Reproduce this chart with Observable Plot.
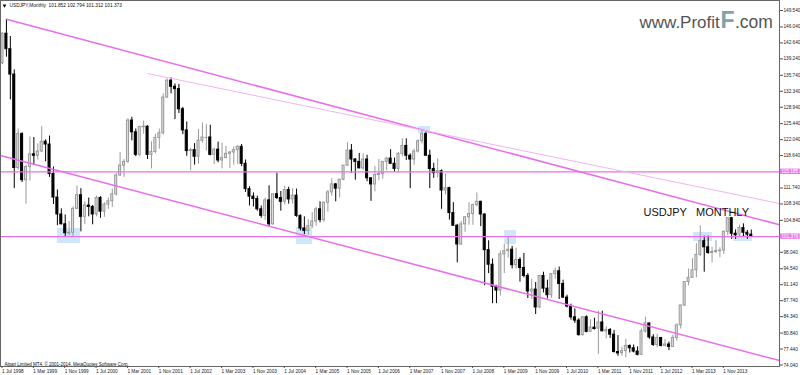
<!DOCTYPE html>
<html><head><meta charset="utf-8">
<script src="https://cdn.jsdelivr.net/npm/d3@7"></script>
<script src="https://cdn.jsdelivr.net/npm/@observablehq/plot@0.6"></script>
<style>html,body{margin:0;padding:0;background:#fff}svg{display:block}</style>
</head><body><div id="chart"></div>
<script>
// Monthly USDJPY candles, Jul 1998 .. Jun 2014 (index 0 = Jul 1998)
const firstOpen = 138.3;
const closes = [
  144.6,141.3,135.9,116.0,123.2,113.4,
  116.2,118.9,118.6,119.5,121.6,121.0,114.7,109.7,106.1,104.0,102.1,102.2,
  107.3,110.2,105.6,108.0,107.7,106.1,109.6,106.7,108.2,108.9,110.4,114.4,
  116.5,117.3,126.1,123.6,118.8,124.7,124.8,118.8,119.4,122.4,123.4,131.0,
  134.6,133.3,132.8,128.5,124.0,119.6,119.8,118.4,121.8,122.5,122.5,118.8,
  119.9,117.6,118.1,119.0,119.3,119.8,120.5,116.9,111.5,109.9,109.4,107.2,
  105.8,109.1,104.0,110.4,109.6,108.8,111.3,109.3,110.1,105.8,103.1,102.6,
  103.6,104.6,107.2,104.9,108.6,110.8,112.5,111.6,113.5,116.5,119.7,117.8,
  117.3,115.9,117.8,113.8,112.5,114.5,114.7,117.3,118.0,116.9,115.8,119.0,
  120.7,118.6,117.8,119.5,121.7,123.2,118.6,115.8,114.9,115.3,111.2,111.7,
  106.4,103.7,99.7,104.0,105.5,106.2,108.1,108.8,106.1,98.5,95.4,90.7,
  89.9,97.6,98.3,98.6,95.3,96.4,94.7,93.0,89.7,90.1,86.3,93.0,
  90.3,88.9,93.4,94.0,91.3,88.4,86.5,84.2,83.5,80.4,84.2,81.1,
  82.0,81.8,83.1,81.2,81.5,80.5,76.8,76.6,77.0,78.1,77.6,76.9,
  76.2,81.2,82.9,79.9,78.3,79.8,78.1,78.4,77.9,79.8,82.5,86.7,
  91.7,92.6,94.2,97.5,100.4,99.1,97.9,98.1,98.3,98.4,102.4,105.3,
  102.0,101.8,103.2,102.2,101.8,101.373
];
const highs = [
  144.8,147.66,144.0,136.9,124.3,123.5,
  116.6,122.6,122.5,121.1,124.8,122.0,122.8,116.2,111.3,107.3,106.0,104.6,
  107.7,112.2,111.6,108.8,109.6,108.0,110.0,109.9,108.6,109.6,111.5,114.8,
  119.3,117.8,126.5,126.8,124.3,124.9,126.0,125.0,121.6,123.2,124.3,131.8,
  135.0,135.2,133.9,133.8,128.9,125.8,120.2,121.2,124.2,125.6,125.3,125.1,
  120.2,121.5,121.3,120.6,119.5,120.5,120.8,121.0,117.7,112.0,110.7,110.0,
  107.9,109.6,112.2,110.5,114.9,111.0,112.1,111.9,111.6,111.5,106.0,105.6,
  105.0,106.5,107.6,108.8,108.7,111.2,113.7,112.7,113.6,116.5,121.4,121.0,
  118.0,119.1,119.0,118.7,113.9,116.3,117.8,117.4,118.3,119.9,118.1,119.3,
  122.2,122.2,119.0,120.0,122.0,124.14,123.6,119.8,117.0,117.9,115.6,114.7,
  111.9,108.6,104.0,104.6,105.6,108.6,108.3,110.7,108.9,106.2,100.5,96.6,
  91.0,98.3,99.7,101.4,99.3,98.9,96.9,97.8,93.5,92.3,91.6,93.1,
  93.8,92.1,93.5,94.7,94.9,92.1,88.9,87.0,86.0,83.9,84.4,84.5,
  83.7,84.0,85.5,85.5,82.2,81.8,81.4,80.3,77.8,79.5,78.3,78.3,
  77.9,81.7,84.2,82.9,80.5,80.6,79.9,79.5,78.9,80.4,82.8,86.8,
  91.7,94.5,96.7,99.9,103.7,101.5,101.5,99.1,100.6,99.0,102.6,105.4,
  105.4,102.8,103.8,104.1,102.7,102.794
];
const lows = [
  138.0,139.6,130.5,111.6,115.5,112.9,
  108.3,113.2,116.7,117.7,119.3,117.3,114.0,108.2,103.7,103.9,101.3,101.6,
  101.4,107.2,102.4,104.0,105.6,103.9,105.6,105.3,105.5,107.2,107.6,110.0,
  114.2,114.0,117.0,121.8,118.4,118.4,123.2,117.8,115.8,119.0,120.0,123.0,
  130.8,131.8,126.3,127.6,123.1,118.5,115.4,116.6,116.8,121.3,119.6,118.6,
  116.7,117.1,115.8,118.1,115.9,116.6,116.7,116.3,110.8,107.9,107.7,106.8,
  105.3,104.8,103.4,103.8,109.3,106.8,108.1,108.3,108.3,105.5,102.6,101.8,
  101.7,103.1,103.6,104.3,104.4,106.6,110.0,108.8,109.6,113.3,116.3,114.9,
  113.4,115.9,115.5,113.1,108.9,110.9,113.3,113.6,115.4,116.8,115.1,115.0,
  118.4,117.6,111.6,116.6,119.2,121.1,118.6,111.6,113.8,113.9,107.2,110.3,
  104.9,103.6,95.8,99.6,102.3,103.8,103.8,107.7,103.5,90.9,93.5,87.1,
  87.1,88.7,93.5,96.8,94.5,94.5,91.7,92.6,88.2,88.0,84.8,86.1,
  89.4,88.1,88.2,92.3,88.0,88.2,86.2,83.6,82.9,80.2,80.2,80.9,
  81.0,81.5,76.3,81.2,79.6,79.7,76.6,75.9,75.9,75.6,76.6,76.6,
  76.0,76.1,80.8,79.5,78.0,77.7,77.9,77.9,77.1,77.8,79.1,81.7,
  86.5,90.9,92.6,92.6,97.1,93.8,97.6,95.8,97.8,96.9,97.6,101.6,
  100.8,100.8,101.2,101.4,100.8,101.312
];

// Price axis tick values and time axis labels (every 8 months)
const yTicks = [149.54,146.04,142.64,139.24,135.74,132.34,128.94,125.44,122.04,118.64,
  111.74,108.34,104.84,98.04,94.54,91.14,87.74,84.34,80.84,77.44,74.04];
const xTickLabels = ["1 Jul 1998","1 Mar 1999","1 Nov 1999","1 Jul 2000","1 Mar 2001","1 Nov 2001",
  "1 Jul 2002","1 Mar 2003","1 Nov 2003","1 Jul 2004","1 Mar 2005","1 Nov 2005","1 Jul 2006",
  "1 Mar 2007","1 Nov 2007","1 Jul 2008","1 Mar 2009","1 Nov 2009","1 Jul 2010","1 Mar 2011",
  "1 Nov 2011","1 Jul 2012","1 Mar 2013","1 Nov 2013"];
const xTickIdx = xTickLabels.map((_, k) => k * 8);

// Horizontal levels
const levels = [115.185, 101.376];
// Trend lines (month index, price)
const trendLines = [
  {i1: 1, p1: 147.66, i2: 198.2, p2: 103.9, kind: "main"},
  {i1: -0.51, p1: 118.66, i2: 198.2, p2: 74.99, kind: "main"},
  {i1: 37, p1: 136.12, i2: 198.2, p2: 108.43, kind: "thin"}
];
// Highlight zones (month index range, price range)
const zones = [
  {i1: 14.0, i2: 19.9, p1: 99.91, p2: 103.11},
  {i1: 75.0, i2: 79.1, p1: 99.70, p2: 103.32},
  {i1: 106.1, i2: 109.2, p1: 123.34, p2: 124.83},
  {i1: 128.1, i2: 131.1, p1: 99.70, p2: 102.68},
  {i1: 176.3, i2: 181.1, p1: 100.34, p2: 102.26},
  {i1: 186.5, i2: 191.3, p1: 100.34, p2: 101.62}
];

const candles = closes.map((c, i) => {
  const o = i === 0 ? firstOpen : closes[i - 1];
  return {i, o, h: highs[i], l: lows[i], c, up: c >= o};
});

const xMin = -0.51, xMax = 198.2;
const hw = 0.26;
const LINE = "#e96ee9";
const font = "Liberation Sans, Arial, sans-serif";

const chart = Plot.plot({
  width: 800, height: 375,
  marginLeft: 0, marginRight: 21, marginTop: 0, marginBottom: 9,
  x: {domain: [xMin, xMax], axis: null},
  y: {domain: [73.72, 151.67], axis: null},
  style: {fontFamily: font, background: "white", color: "#222"},
  marks: [
    Plot.rect(zones, {x1: "i1", x2: "i2", y1: "p1", y2: "p2", fill: "#cfe6fb"}),
    Plot.ruleX(candles, {x: "i", y1: "l", y2: "h", stroke: d => d.up ? "#9a9a9a" : "#000", strokeWidth: 1}),
    Plot.rect(candles, {x1: d => d.i - hw, x2: d => d.i + hw, y1: "o", y2: "c",
      fill: d => d.up ? "#dedede" : "#000", stroke: d => d.up ? "#9a9a9a" : "#000", strokeWidth: 1}),
    Plot.ruleY(candles.filter(d => Math.abs(d.o - d.c) < 0.25), {y: "c", x1: d => d.i - hw - 0.13, x2: d => d.i + hw + 0.13,
      stroke: d => d.up ? "#9a9a9a" : "#000", strokeWidth: 1}),
    Plot.ruleY(levels, {stroke: LINE, strokeWidth: 1.3}),
    Plot.link(trendLines, {x1: "i1", y1: "p1", x2: "i2", y2: "p2",
      stroke: d => d.kind === "main" ? LINE : "#f2b4f2", strokeWidth: d => d.kind === "main" ? 1.5 : 1}),
    Plot.frame({stroke: "#666"}),
    Plot.axisY({anchor: "right", ticks: yTicks, tickFormat: d => d.toFixed(3), tickSize: 3, tickPadding: 1,
      fontSize: 4.7, stroke: "#555"}),
    Plot.rect(levels, {x1: xMax + 0.2, x2: xMax + 5.3, y1: d => d - 0.58, y2: d => d + 0.58, fill: "#e77ce7"}),
    Plot.text(levels, {x: xMax, y: d => d, text: d => d.toFixed(3), dx: 2, textAnchor: "start", fill: "white", fontSize: 4.7}),
    Plot.axisX({anchor: "bottom", ticks: xTickIdx, tickFormat: d => xTickLabels[d / 8], tickSize: 2, tickPadding: 1,
      textAnchor: "start", dx: -0.5, fontSize: 4.7, stroke: "#555"}),
    Plot.dot([0], {frameAnchor: "top-left", dx: 4, dy: 5, symbol: "triangle", r: 1.4, rotate: 180, fill: "#000"}),
    Plot.text(["USDJPY,Monthly  101.852 102.794 101.312 101.373"], {frameAnchor: "top-left", dx: 9, dy: 5.3,
      lineAnchor: "middle", textAnchor: "start", fontSize: 4.8, fill: "#111"}),
    Plot.text(["Alpari Limited MT4, \u00a9 2001-2014, MetaQuotes Software Corp."], {frameAnchor: "bottom-left", dx: 4, dy: -1,
      lineAnchor: "bottom", textAnchor: "start", fontSize: 4.5, fill: "#111"}),
    Plot.text(["USDJPY\u00a0\u00a0\u00a0MONTHLY"], {x: 163.5, y: 105.8, lineAnchor: "bottom", textAnchor: "start",
      fontSize: 11, fill: "#111"}),
    Plot.text(["www.Profit"], {frameAnchor: "top-left", dx: 639, dy: 27, lineAnchor: "bottom", textAnchor: "start",
      fontSize: 17, fill: "#555"}),
    Plot.text(["F"], {frameAnchor: "top-left", dx: 720, dy: 27, lineAnchor: "bottom", textAnchor: "start",
      fontSize: 23, fontWeight: "bold", fill: "#7fa3aa"}),
    Plot.text([".com"], {frameAnchor: "top-left", dx: 734.5, dy: 27, lineAnchor: "bottom", textAnchor: "start",
      fontSize: 17.5, fill: "#555"})
  ]
});
document.getElementById("chart").appendChild(chart);
</script>
</body></html>
